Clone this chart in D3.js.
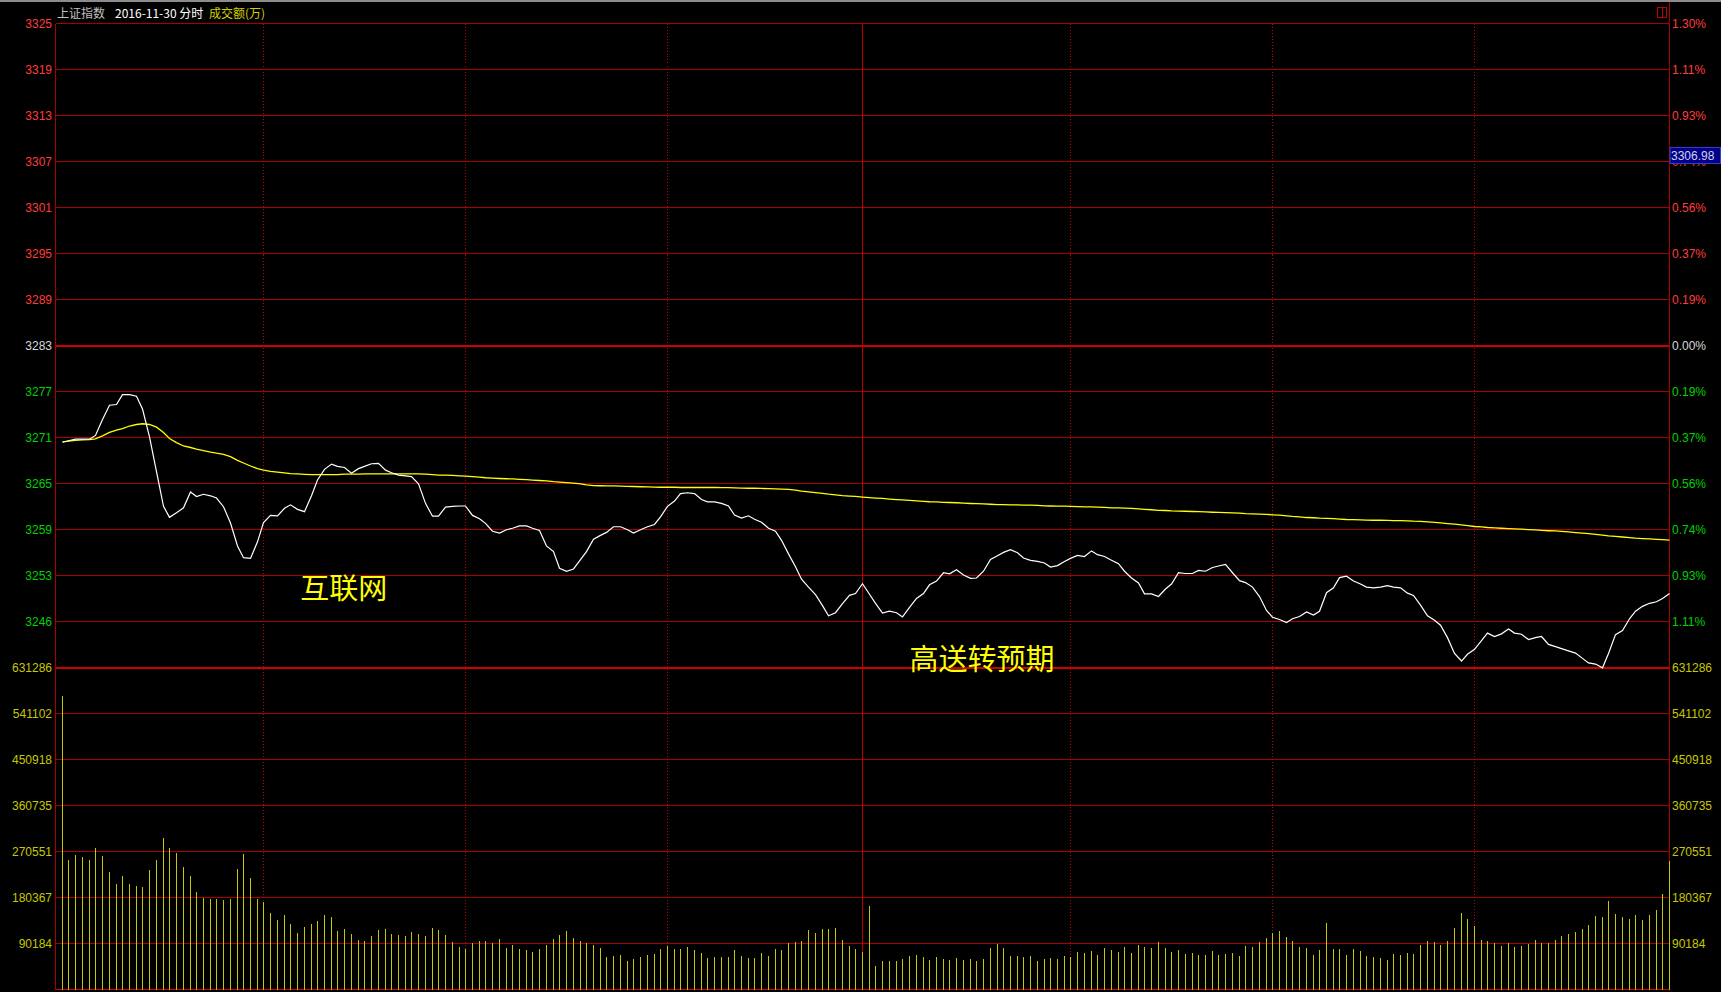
<!DOCTYPE html>
<html><head><meta charset="utf-8">
<script src="https://cdn.jsdelivr.net/npm/d3@7/dist/d3.min.js"></script>
<style>html,body{margin:0;padding:0;background:#000;overflow:hidden}</style>
</head><body>
<svg id="c" width="1721" height="992"></svg>
<script>
// ---------- data ----------
const prevClose = 3282.92;
const rangePct = 0.013;
const volMax = 631286;
const priceTickLabels = ["3325","3319","3313","3307","3301","3295","3289","3283","3277","3271","3265","3259","3253","3246"];
const pctTickLabels = ["1.30%","1.11%","0.93%","0.74%","0.56%","0.37%","0.19%","0.00%","0.19%","0.37%","0.56%","0.74%","0.93%","1.11%"];
const volTickLabels = ["631286","541102","450918","360735","270551","180367","90184"];
const timeGridIdx = [30, 60, 90, 150, 180, 210];
const middayIdx = 119;
const titleParts = ["上证指数", "2016-11-30 分时", "成交额(万)"];
const cursorValue = "3306.98";
const annotations = ["互联网", "高送转预期"];

const price = [
3270.1,3270.3,3270.5,3270.5,3270.5,3271.0,3273.1,3275.0,3275.1,3276.4,
3276.4,3276.2,3274.5,3270.8,3266.2,3261.6,3260.15,3260.75,3261.4,3263.5,
3262.9,3263.2,3263.0,3262.7,3261.55,3259.4,3256.35,3254.8,3254.7,3256.9,
3259.45,3260.4,3260.35,3261.35,3261.8,3261.2,3260.9,3263.0,3265.1,3266.5,
3267.2,3266.9,3266.75,3266.0,3266.6,3266.9,3267.25,3267.3,3266.4,3266.05,
3265.75,3265.65,3265.55,3264.6,3262.0,3260.3,3260.3,3261.5,3261.6,3261.65,
3261.65,3260.4,3259.95,3259.35,3258.3,3258.05,3258.5,3258.7,3259.0,3259.0,
3258.7,3258.4,3256.35,3255.6,3253.4,3253.0,3253.3,3254.55,3255.6,3257.25,
3257.75,3258.15,3258.9,3258.9,3258.5,3258.05,3258.5,3258.9,3259.2,3260.2,
3261.6,3262.3,3263.3,3263.4,3263.3,3262.5,3262.2,3262.2,3262.0,3261.65,
3260.45,3260.05,3260.35,3259.9,3259.5,3258.7,3258.3,3257.1,3255.3,3253.6,
3251.95,3250.9,3249.9,3248.45,3247.1,3247.5,3248.7,3249.8,3250.05,3251.35,
3249.95,3248.75,3247.45,3247.7,3247.5,3246.95,3248.2,3249.4,3250.05,3251.2,
3251.7,3252.8,3252.65,3253.2,3252.5,3252.05,3252.1,3253.0,3254.55,3255.05,
3255.5,3255.85,3255.45,3254.75,3254.45,3254.3,3254.1,3253.55,3253.75,3254.3,
3254.7,3255.1,3254.95,3255.7,3255.2,3254.95,3254.45,3254.0,3253.0,3252.1,
3251.45,3250.0,3250.0,3249.65,3250.65,3251.3,3252.8,3252.7,3252.7,3253.1,
3253.0,3253.5,3253.7,3253.9,3252.8,3251.75,3251.5,3250.9,3249.65,3247.8,
3246.9,3246.6,3246.2,3246.7,3247.0,3247.6,3247.2,3247.7,3250.15,3250.8,
3252.15,3252.35,3251.7,3251.3,3250.9,3250.8,3250.9,3251.1,3250.9,3250.8,
3250.1,3249.8,3248.5,3247.1,3246.5,3245.85,3244.2,3242.1,3241.1,3242.0,
3242.65,3243.8,3244.8,3244.35,3244.7,3245.35,3244.8,3244.65,3243.95,3244.2,
3244.35,3243.3,3243.0,3242.75,3242.45,3242.15,3241.45,3240.85,3240.7,3240.2,
3242.1,3244.6,3245.15,3246.7,3247.7,3248.35,3248.75,3248.95,3249.4,3250.05
];

const avgPrice = [
3270.14,3270.25,3270.35,3270.4,3270.45,3270.55,3270.95,3271.4,3271.7,3271.9,
3272.25,3272.45,3272.55,3272.45,3272.1,3271.4,3270.6,3270.05,3269.6,3269.4,
3269.2,3269.0,3268.8,3268.65,3268.5,3268.2,3267.7,3267.35,3266.95,3266.6,
3266.4,3266.25,3266.15,3266.05,3265.95,3265.9,3265.85,3265.8,3265.8,3265.8,
3265.81,3265.81,3265.86,3265.86,3265.86,3265.91,3265.91,3265.91,3265.91,3265.91,
3265.91,3265.91,3265.91,3265.91,3265.88,3265.81,3265.75,3265.75,3265.7,3265.65,
3265.62,3265.55,3265.47,3265.39,3265.34,3265.29,3265.26,3265.24,3265.18,3265.13,
3265.08,3265.03,3264.98,3264.88,3264.82,3264.75,3264.67,3264.57,3264.46,3264.36,
3264.33,3264.31,3264.31,3264.28,3264.26,3264.23,3264.2,3264.18,3264.15,3264.13,
3264.13,3264.13,3264.1,3264.1,3264.1,3264.1,3264.1,3264.1,3264.08,3264.08,
3264.05,3264.02,3264.0,3264.0,3263.97,3263.95,3263.92,3263.89,3263.84,3263.74,
3263.63,3263.53,3263.43,3263.33,3263.22,3263.12,3263.01,3262.96,3262.91,3262.83,
3262.76,3262.7,3262.65,3262.57,3262.5,3262.45,3262.39,3262.32,3262.27,3262.21,
3262.19,3262.14,3262.11,3262.08,3262.03,3261.98,3261.95,3261.93,3261.88,3261.83,
3261.83,3261.8,3261.8,3261.77,3261.75,3261.72,3261.67,3261.65,3261.62,3261.62,
3261.59,3261.57,3261.54,3261.52,3261.49,3261.46,3261.41,3261.39,3261.36,3261.33,
3261.26,3261.2,3261.15,3261.08,3261.05,3261.0,3260.97,3260.95,3260.92,3260.9,
3260.87,3260.82,3260.79,3260.77,3260.74,3260.69,3260.64,3260.61,3260.58,3260.53,
3260.48,3260.43,3260.35,3260.27,3260.2,3260.12,3260.09,3260.04,3260.02,3259.97,
3259.91,3259.86,3259.84,3259.81,3259.78,3259.76,3259.76,3259.73,3259.71,3259.71,
3259.68,3259.63,3259.6,3259.55,3259.47,3259.4,3259.32,3259.24,3259.14,3259.04,
3258.93,3258.88,3258.8,3258.75,3258.7,3258.65,3258.62,3258.57,3258.52,3258.47,
3258.42,3258.37,3258.34,3258.29,3258.21,3258.13,3258.06,3257.98,3257.9,3257.8,
3257.69,3257.61,3257.54,3257.46,3257.38,3257.33,3257.28,3257.23,3257.18,3257.13
];

const volume = [
574750,253750,263700,259900,253750,277400,261400,230000,207100,222400,
207100,203300,201000,234600,253750,297300,277400,267500,240000,222400,
191100,179600,177300,177300,175800,177300,236200,266000,218600,177300,
172000,149800,136000,146000,128400,110800,123100,128400,134500,146300,
142200,114600,118500,109300,97100,95500,104700,116900,118500,109300,
107000,104700,113100,109300,104700,120800,116900,107000,93200,83300,
79500,91700,95500,95500,91700,99400,81800,87100,79500,77200,
73400,79500,87100,99400,107000,114600,100900,95500,91700,87500,
81800,64200,65700,68000,55800,60400,64200,68000,69600,79500,
85600,79500,79500,83300,78000,71800,61900,64200,64200,64200,
78000,65700,61900,61900,71800,65700,79500,78000,91700,93200,
95500,116900,110800,118500,118500,120800,97100,85600,79500,73400,
163600,46600,55800,55800,55800,60400,65700,68000,64200,58100,
64200,60400,58100,61900,58100,60400,55800,60400,81800,89400,
81800,65700,65700,64200,65700,55800,60400,61900,60400,65700,
64200,73400,71800,75700,68000,81800,78000,73400,83300,71800,
87100,83300,81800,93200,81800,73400,78000,69600,71800,68000,
68000,75700,68000,69600,71800,65700,85600,83300,93200,100900,
110800,114600,103200,95500,83300,81800,68000,78000,130700,79500,
79500,68000,79500,75700,65700,64200,61900,58100,69600,68000,
71800,69600,87100,95500,93200,87100,95500,120800,149800,138300,
124600,97100,95500,91700,85600,91700,83300,85600,89400,97100,
91700,91700,97100,104700,109300,113100,118500,126900,144500,142200,
173500,148300,142200,138300,146000,136000,146000,155900,187300,252200
];

// ---------- layout ----------
const W = 1721, H = 992;
const L = 55.5, R = 1669.5, T = 23.5, MID = 667.5, B = 989.5;
const C = {
  grid: "#a80000", gridStrong: "#d00000",
  red: "#ff3c3c", green: "#00d200", white: "#d8d8d8", yellowLbl: "#c8c800",
  price: "#ffffff", avg: "#ffff00", vol: "#c8c800"
};
const FONT = "'Liberation Sans', Arial, sans-serif";
const CJK = "'Noto Sans CJK SC', sans-serif";

const svg = d3.select("#c");
svg.append("rect").attr("width", W).attr("height", H).attr("fill", "#000");

const x = d3.scaleLinear().domain([-1, price.length - 1]).range([L, R]);
const yP = d3.scaleLinear().domain([prevClose * (1 - rangePct), prevClose * (1 + rangePct)]).range([MID, T]);
const yV = d3.scaleLinear().domain([0, volMax]).range([B, MID]);
const snap = v => Math.round(v - 0.5) + 0.5;

// top frame line
svg.append("rect").attr("x", 0).attr("y", 0).attr("width", W).attr("height", 2).attr("fill", "#8c8c8c");

// title
const title = svg.append("g").attr("font-size", 12).attr("font-family", CJK);
title.append("text").attr("x", 57).attr("y", 17.5).attr("fill", "#c0c0c0").text(titleParts[0]);
title.append("text").attr("x", 115).attr("y", 17.5).attr("fill", "#ffffff").text(titleParts[1]);
title.append("text").attr("x", 209).attr("y", 17.5).attr("fill", "#d0d000").text(titleParts[2]);

// price ticks
const nSteps = 7;
const priceTicks = d3.range(nSteps, -nSteps - 1, -1).map(k => prevClose * (1 + rangePct * k / nSteps));
const volTicks = d3.range(nSteps, 0, -1).map(k => volMax * k / nSteps);

const grid = svg.append("g").attr("shape-rendering", "crispEdges");
priceTicks.forEach((p, i) => {
  const y = snap(yP(p));
  const strong = (i === nSteps || i === 2 * nSteps);
  grid.append("line").attr("x1", L).attr("x2", R).attr("y1", y).attr("y2", y)
    .attr("stroke", strong ? C.gridStrong : C.grid).attr("stroke-width", strong ? 2 : 1);
});
volTicks.slice(1).forEach(v => {
  const y = snap(yV(v));
  grid.append("line").attr("x1", L).attr("x2", R).attr("y1", y).attr("y2", y).attr("stroke", C.grid);
});
grid.append("line").attr("x1", L).attr("x2", R + 0.5).attr("y1", B).attr("y2", B).attr("stroke", C.gridStrong);
// borders
grid.append("line").attr("x1", L).attr("x2", L).attr("y1", T).attr("y2", B).attr("stroke", C.grid);
grid.append("line").attr("x1", R).attr("x2", R).attr("y1", 2).attr("y2", B).attr("stroke", C.grid);
// time grid
timeGridIdx.forEach(i => {
  grid.append("line").attr("x1", snap(x(i))).attr("x2", snap(x(i))).attr("y1", T).attr("y2", B)
    .attr("stroke", "#c00000").attr("stroke-dasharray", "1,2");
});
grid.append("line").attr("x1", snap(x(middayIdx))).attr("x2", snap(x(middayIdx))).attr("y1", T).attr("y2", B)
  .attr("stroke", "#c00000");

// axis labels
const lab = svg.append("g").attr("font-family", FONT).attr("font-size", 12);
priceTicks.slice(0, priceTickLabels.length).forEach((p, i) => {
  const col = i < nSteps ? C.red : (i === nSteps ? C.white : C.green);
  lab.append("text").attr("x", 52).attr("y", yP(p) + 4.3).attr("text-anchor", "end")
    .attr("fill", col).text(priceTickLabels[i]);
  lab.append("text").attr("x", 1672).attr("y", yP(p) + 4.3)
    .attr("fill", col).text(pctTickLabels[i]);
});
volTicks.forEach((v, i) => {
  lab.append("text").attr("x", 52).attr("y", yV(v) + 4.3).attr("text-anchor", "end")
    .attr("fill", C.yellowLbl).text(volTickLabels[i]);
  lab.append("text").attr("x", 1672).attr("y", yV(v) + 4.3)
    .attr("fill", C.yellowLbl).text(volTickLabels[i]);
});

// volume bars
svg.append("g").attr("shape-rendering", "crispEdges")
  .selectAll("line").data(volume).join("line")
  .attr("x1", (d, i) => snap(x(i))).attr("x2", (d, i) => snap(x(i)))
  .attr("y1", yV(0)).attr("y2", d => yV(d))
  .attr("stroke", C.vol).attr("stroke-width", 1);

// lines
const lineGen = d3.line().x((d, i) => snap(x(i))).y(d => yP(d));
svg.append("path").datum(avgPrice).attr("d", lineGen)
  .attr("fill", "none").attr("stroke", C.avg).attr("stroke-width", 1.3);
svg.append("path").datum(price).attr("d", lineGen)
  .attr("fill", "none").attr("stroke", C.price).attr("stroke-width", 1.2);

// annotations
const ann = svg.append("g").attr("font-family", CJK).attr("font-size", 29).attr("fill", "#ffff00");
ann.append("text").attr("x", x(35.4)).attr("y", yP(3249.3)).text(annotations[0]);
ann.append("text").attr("x", x(126)).attr("y", yP(3240.0) + 1).text(annotations[1]);

// cursor value box (covers the 0.74% label as in the source)
const boxY = yP(3306.98) - 16.5;
svg.append("rect").attr("x", 1670).attr("y", boxY).attr("width", 50.5).attr("height", 16)
  .attr("fill", "#000088").attr("stroke", "#3c3cc8").attr("stroke-width", 1);
svg.append("text").attr("x", 1671).attr("y", boxY + 12.3).attr("font-family", FONT).attr("font-size", 12)
  .attr("fill", "#d0d0f0").text(cursorValue);

// small icon top right
const ic = svg.append("g").attr("shape-rendering", "crispEdges").attr("fill", "none").attr("stroke", "#c00000");
ic.append("rect").attr("x", 1657.5).attr("y", 7.5).attr("width", 9).attr("height", 9.5);
ic.append("line").attr("x1", 1662.5).attr("x2", 1662.5).attr("y1", 7.5).attr("y2", 17);
</script>
</body></html>
